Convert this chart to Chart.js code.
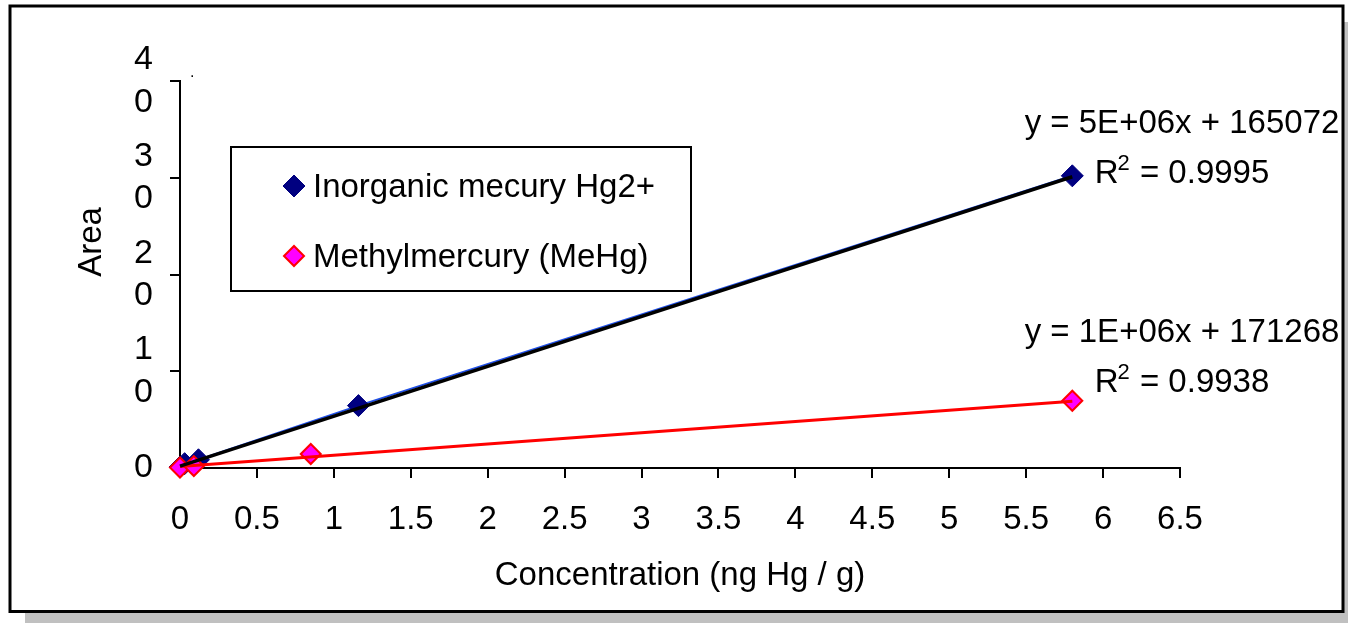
<!DOCTYPE html>
<html><head><meta charset="utf-8">
<script src="https://cdn.jsdelivr.net/npm/chart.js@4.4.1/dist/chart.umd.min.js"></script>
<style>html,body{margin:0;padding:0;background:#fff;overflow:hidden}canvas{display:block}</style>
</head><body>
<canvas id="c" width="1348" height="623"></canvas>
<script>
// ---- data (y in millions of area counts) ----
const inorganicX = [0, 0.03, 0.12, 1.16, 5.8];
const inorganicY = [0.1, 0.45, 0.85, 6.45, 30.2];
const mehgX = [0, 0.09, 0.85, 5.8];
const mehgY = [0.05, 0.2, 1.45, 6.95];
const trendX = [0, 5.8];
const inorganicTrendY = [0.2, 30.1];
const mehgTrendY = [0.15, 6.9];
const yTickValues = [0, 10, 20, 30, 40];
const yTickLabels = ['0', '1\n0', '2\n0', '3\n0', '4\n0'];
const seriesNames = ['Inorganic mecury Hg2+', 'Methylmercury (MeHg)'];
const equationTexts = ['y = 5E+06x + 165072', 'y = 1E+06x + 171268'];
const r2Values = ['0.9995', '0.9938'];
const xTitle = 'Concentration (ng Hg / g)';
const yTitle = 'Area';

const FONT = '"Liberation Sans", Arial, sans-serif';
const FS = 33;
const pts = (xs, ys) => xs.map((x, i) => ({x: x, y: ys[i]}));

function diamond(ctx, x, y, r, fill, stroke, lw) {
  ctx.beginPath();
  ctx.moveTo(x - r, y); ctx.lineTo(x, y - r); ctx.lineTo(x + r, y); ctx.lineTo(x, y + r);
  ctx.closePath();
  ctx.fillStyle = fill; ctx.fill();
  ctx.strokeStyle = stroke; ctx.lineWidth = lw; ctx.stroke();
}

const decor = {
  id: 'decor',
  beforeDraw(chart) {
    const ctx = chart.ctx;
    ctx.save();
    ctx.fillStyle = '#C0C0C0';
    ctx.fillRect(25, 22, 1348 - 25, 623 - 22);
    ctx.fillStyle = '#fff';
    ctx.fillRect(10, 6, 1333, 606);
    ctx.strokeStyle = '#000'; ctx.lineWidth = 3;
    ctx.strokeRect(10, 6, 1333, 605.5);
    ctx.restore();
  },
  afterDraw(chart) {
    const ctx = chart.ctx;
    ctx.save();
    // legend
    ctx.fillStyle = '#fff';
    ctx.fillRect(231, 147, 460, 144);
    ctx.strokeStyle = '#000'; ctx.lineWidth = 2;
    ctx.strokeRect(231, 147, 460, 144);
    diamond(ctx, 294, 186, 11, '#000080', '#000080', 1);
    diamond(ctx, 294, 256, 10, '#FF00FF', '#FF0000', 2);
    ctx.fillStyle = '#000';
    ctx.font = FS + 'px ' + FONT;
    ctx.textAlign = 'left'; ctx.textBaseline = 'alphabetic';
    ctx.fillText(seriesNames[0], 313, 197);
    ctx.fillText(seriesNames[1], 313, 267);
    // y title
    ctx.save();
    ctx.translate(92, 242);
    ctx.rotate(-Math.PI / 2);
    ctx.textAlign = 'center'; ctx.textBaseline = 'middle';
    ctx.fillText(yTitle, 0, 0);
    ctx.restore();
    // small dot artifact
    ctx.font = '16px ' + FONT;
    ctx.fillText('.', 190, 77);
    // trendline equations
    const cx = 1182;
    const bases = [[133, 183], [342, 392]];
    for (let i = 0; i < 2; i++) {
      ctx.font = FS + 'px ' + FONT;
      ctx.textAlign = 'center';
      ctx.fillText(equationTexts[i], cx, bases[i][0]);
      ctx.textAlign = 'left';
      const wR = ctx.measureText('R').width;
      const rest = ' = ' + r2Values[i];
      const wRest = ctx.measureText(rest).width;
      ctx.font = '22px ' + FONT;
      const wSup = ctx.measureText('2').width;
      const total = wR + wSup + wRest;
      let x = cx - total / 2;
      ctx.font = FS + 'px ' + FONT;
      ctx.fillText('R', x, bases[i][1]);
      ctx.font = '22px ' + FONT;
      ctx.fillText('2', x + wR - 1, bases[i][1] - 13);
      ctx.font = FS + 'px ' + FONT;
      ctx.fillText(rest, x + wR + wSup, bases[i][1]);
    }
    ctx.restore();
  }
};

new Chart(document.getElementById('c'), {
  type: 'scatter',
  data: {
    datasets: [
      { label: 'trend1', data: pts(trendX, inorganicTrendY), showLine: true, borderColor: '#000', borderWidth: 3.5, pointRadius: 0, order: 0, clip: false },
      { label: 'trend2', data: pts(trendX, mehgTrendY), showLine: true, borderColor: '#FF0000', borderWidth: 3, pointRadius: 0, order: 1, clip: false },
      { label: seriesNames[1], data: pts(mehgX, mehgY), showLine: false, pointStyle: 'rectRot', pointRadius: 10, backgroundColor: '#FF00FF', borderColor: '#FF0000', borderWidth: 2, order: 2, clip: false },
      { label: seriesNames[0], data: pts(inorganicX, inorganicY), showLine: true, borderColor: '#2050E8', borderWidth: 2, pointStyle: 'rectRot', pointRadius: 11, pointBackgroundColor: '#000080', pointBorderColor: '#000080', pointBorderWidth: 1, order: 3, clip: false }
    ]
  },
  options: {
    responsive: false,
    devicePixelRatio: 1,
    animation: false,
    layout: { padding: { left: 0, top: 81, right: 168, bottom: 0 } },
    plugins: { legend: { display: false }, tooltip: { enabled: false } },
    scales: {
      x: {
        type: 'linear', min: 0, max: 6.5,
        afterFit(s) { s.height = 155; },
        ticks: { stepSize: 0.5, autoSkip: false, maxRotation: 0, color: '#000', padding: 22, font: { family: FONT, size: FS },
          callback: (v) => String(v) },
        grid: { drawOnChartArea: false, drawTicks: true, tickLength: 10, color: '#000', lineWidth: 2 },
        border: { display: true, color: '#000', width: 2 },
        title: { display: true, text: xTitle, color: '#000', font: { family: FONT, size: FS }, padding: { top: 0, bottom: 27 } }
      },
      y: {
        type: 'linear', min: 0, max: 40,
        afterFit(s) { s.width = 180; },
        afterBuildTicks(s) { s.ticks = yTickValues.map(v => ({value: v})); },
        ticks: {
          autoSkip: false, color: '#000', padding: 17,
          font: { family: FONT, size: 34, lineHeight: 1.25 },
          callback: (v) => { const i = yTickValues.indexOf(v); return i < 0 ? '' : yTickLabels[i].split('\n'); }
        },
        grid: { drawOnChartArea: false, drawTicks: true, tickLength: 10, color: '#000', lineWidth: 2 },
        border: { display: true, color: '#000', width: 2 }
      }
    }
  },
  plugins: [decor]
});
</script>
</body></html>
